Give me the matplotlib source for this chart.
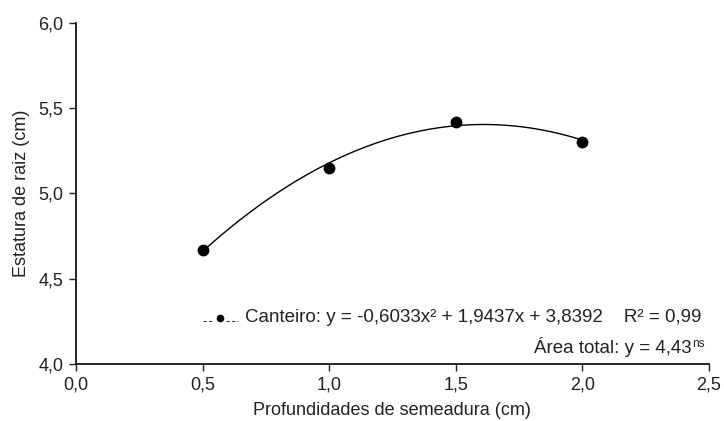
import numpy as np
import matplotlib.pyplot as plt

plt.rcParams['font.family'] = ['Liberation Sans', 'DejaVu Sans']

profundidade = [0.5, 1.0, 1.5, 2.0]
estatura = [4.67, 5.15, 5.42, 5.30]
coef = [-0.6033, 1.9437, 3.8392]
x_ticks = [0.0, 0.5, 1.0, 1.5, 2.0, 2.5]
y_ticks = [4.0, 4.5, 5.0, 5.5, 6.0]


def fmt(v):
  return ('%.1f' % v).replace('.', ',')


fig = plt.figure(figsize=(7.24, 4.21), dpi=100)
ax = fig.add_axes([0.105, 0.1354, 0.874, 0.81])

xs = np.linspace(min(profundidade), max(profundidade), 200)
ax.plot(xs, np.polyval(coef, xs), color='black', lw=1.0)
ax.plot(profundidade, estatura, 'o', color='black', ms=7.5)

ax.set_xlim(0, 2.5)
ax.set_ylim(4.0, 6.0)
ax.set_xticks(x_ticks)
ax.set_xticklabels([fmt(v) for v in x_ticks])
ax.set_yticks(y_ticks)
ax.set_yticklabels([fmt(v) for v in y_ticks])
ax.tick_params(direction='out', length=5, width=1, labelsize=13, colors='#222222', pad=4)
for s in ['top', 'right']:
  ax.spines[s].set_visible(False)
for s in ['left', 'bottom']:
  ax.spines[s].set_linewidth(1.2)

ax.set_xlabel('Profundidades de semeadura (cm)', fontsize=13, color='#222222', labelpad=6)
ax.set_ylabel('Estatura de raiz (cm)', fontsize=13, color='#222222', labelpad=6)

# legenda
ly = 4.255
ax.plot([0.502, 0.545], [ly, ly], color='#444444', lw=0.8, ls=(0, (3, 2)))
ax.plot([0.592, 0.640], [ly, ly], color='#444444', lw=0.8, ls=(0, (3, 2)))
ax.plot([0.569], [4.27], 'o', color='black', ms=4.5)
ax.text(0.667, 4.27, 'Canteiro: y = -0,6033x² + 1,9437x + 3,8392    R² = 0,99',
        fontsize=13.5, va='center', ha='left', color='#222222')
ax.text(2.432, 4.10, 'Área total: y = 4,43',
        fontsize=13.5, va='center', ha='right', color='#222222')
ax.text(2.433, 4.12, 'ns', fontsize=8.5, va='center', ha='left', color='#222222')

fig.savefig('out.png', dpi=100)
